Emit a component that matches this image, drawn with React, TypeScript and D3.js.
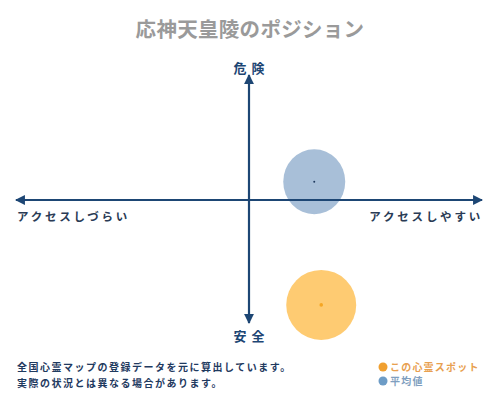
import React from "react";
import * as d3 from "d3";

const title = "応神天皇陵のポジション";
const axisTop = "危険";
const axisBottom = "安全";
const axisLeft = "アクセスしづらい";
const axisRight = "アクセスしやすい";
const footerLines = ["全国心霊マップの登録データを元に算出しています。", "実際の状況とは異なる場合があります。"];
const seriesNames = ["この心霊スポット", "平均値"];
const seriesX = [31, 28];
const seriesY = [-86, 15];
const seriesR = [35, 31];
const seriesFill = ["#fecb72", "#a8bfd8"];
const seriesDot = ["#f5a623", "#1f3a5f"];
const legendColors = ["#f0a030", "#6d9cc6"];
const legendText = ["#e8a050", "#7f9fc0"];

export default function App() {
  const W = 500, H = 400;
  const cx = 249, cy = 200;
  const x = d3.scaleLinear().domain([-100, 100]).range([cx - 233, cx + 233]);
  const y = d3.scaleLinear().domain([-100, 100]).range([cy + 122, cy - 122]);
  const axisColor = "#1d4674";
  const font = "'Noto Sans CJK JP', sans-serif";
  const order = [1, 0];
  return (
    <svg width={W} height={H} style={{ position: "absolute", left: 0, top: 0, background: "#fff" }}>
      <defs>
        <marker id="ah" viewBox="0 0 10 10" refX="9" refY="5" markerWidth="4.5" markerHeight="4.5" orient="auto-start-reverse">
          <path d="M0,0 L10,5 L0,10 Z" fill={axisColor} />
        </marker>
      </defs>
      <text x={250} y={37} textAnchor="middle" fontFamily={font} fontSize={20.5} fontWeight="bold" fill="#9a9a9a" letterSpacing={0.3}>{title}</text>
      {order.map(i => (
        <g key={i}>
          <ellipse cx={x(seriesX[i])} cy={y(seriesY[i])} rx={seriesR[i]} ry={seriesR[i] * (i === 1 ? 1.05 : 1)} fill={seriesFill[i]} />
          <circle cx={x(seriesX[i])} cy={y(seriesY[i])} r={i === 0 ? 1.8 : 1} fill={seriesDot[i]} />
        </g>
      ))}
      <line x1={x(-100)} y1={cy} x2={x(100)} y2={cy} stroke={axisColor} strokeWidth={2.2} markerStart="url(#ah)" markerEnd="url(#ah)" />
      <line x1={cx} y1={y(100) - 3} x2={cx} y2={y(-100) + 1} stroke={axisColor} strokeWidth={2.2} markerStart="url(#ah)" markerEnd="url(#ah)" />
      <text x={cx} y={73} textAnchor="middle" fontFamily={font} fontSize={13} fontWeight="bold" fill={axisColor} letterSpacing={5} dx={2.5}>{axisTop}</text>
      <text x={cx} y={341} textAnchor="middle" fontFamily={font} fontSize={13} fontWeight="bold" fill={axisColor} letterSpacing={5} dx={2.5}>{axisBottom}</text>
      <text x={17} y={221} textAnchor="start" fontFamily={font} fontSize={11.5} fontWeight="bold" fill="#2a3b55" letterSpacing={2.8}>{axisLeft}</text>
      <text x={483} y={221} textAnchor="end" fontFamily={font} fontSize={11.5} fontWeight="bold" fill="#2a3b55" letterSpacing={2.8}>{axisRight}</text>
      {footerLines.map((t, i) => (
        <text key={i} x={17} y={371 + i * 16} fontFamily={font} fontSize={10} fontWeight="bold" fill="#1f3a5f" letterSpacing={1.5}>{t}</text>
      ))}
      {seriesNames.map((t, i) => (
        <g key={i}>
          <circle cx={383} cy={367 + i * 14} r={4.5} fill={legendColors[i]} />
          <text x={390} y={371 + i * 14} fontFamily={font} fontSize={10} fontWeight="bold" fill={legendText[i]} letterSpacing={1.2}>{t}</text>
        </g>
      ))}
    </svg>
  );
}
